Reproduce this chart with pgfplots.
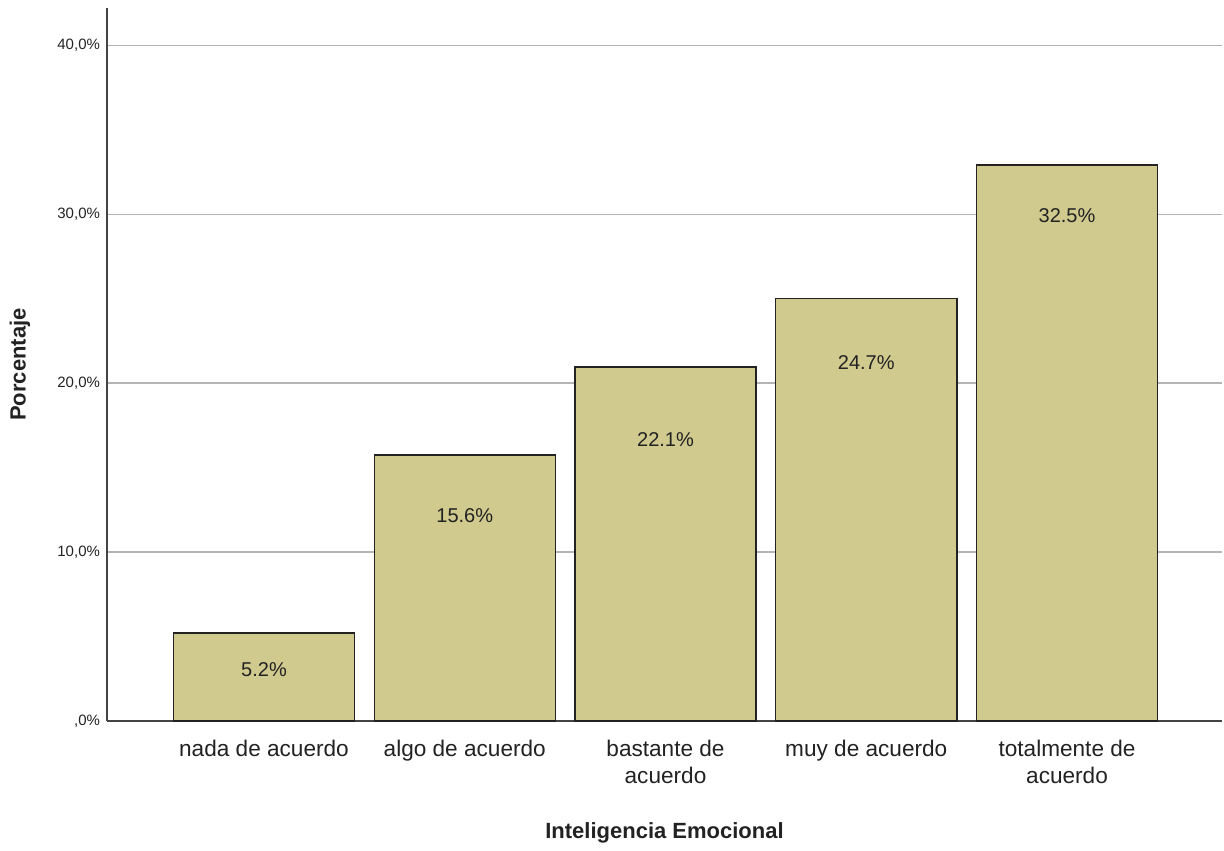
\documentclass[border=0pt]{standalone}
\usepackage{pgfplots}
\pgfplotsset{compat=1.18}
\usepackage{fontspec}
\setmainfont{Liberation Sans}
\definecolor{barfill}{HTML}{D0CA8E}
\definecolor{axisgray}{HTML}{444444}
\definecolor{gridgray}{HTML}{B4B4B4}
\definecolor{txt}{HTML}{222222}

\pgfplotstableread{
x y
0 5.2
1 15.75
2 20.95
3 25.0
4 32.9
}\bars

\pgfplotstableread{
x y lab
0 3.02 5.2
1 12.13 15.6
2 16.63 22.1
3 21.24 24.7
4 29.94 32.5
}\labels

\begin{document}
\begin{tikzpicture}
\useasboundingbox (0,0) rectangle (612pt,425pt);
\begin{axis}[
  at={(53.5pt,64.5pt)}, anchor=south west,
  scale only axis,
  width=557.5pt, height=356.5pt,
  xmin=-0.782, xmax=4.772,
  ymin=0, ymax=42.2,
  axis lines=left,
  axis line style={axisgray, line width=0.9pt, -},
  major tick length=0pt,
  xtick={0,1,2,3,4},
  xticklabels={nada de acuerdo, algo de acuerdo, {bastante de\\acuerdo}, muy de acuerdo, {totalmente de\\acuerdo}},
  xticklabel style={align=center, font=\fontsize{11.3}{13.5}\selectfont, text=txt, yshift=-6pt},
  ytick={0,10,20,30,40},
  yticklabels={{,0\%},{10,0\%},{20,0\%},{30,0\%},{40,0\%}},
  yticklabel style={font=\fontsize{7.5}{9}\selectfont, text=txt},
  ymajorgrids,
  major grid style={gridgray, line width=0.6pt},
  xlabel={\textbf{Inteligencia Emocional}},
  ylabel={\textbf{Porcentaje}},
  xlabel style={at={(axis description cs:0.5,-0.157)}, anchor=center, font=\fontsize{11}{13}\selectfont, text=txt},
  ylabel style={at={(axis description cs:-0.078,0.5)}, anchor=center, font=\fontsize{11}{13}\selectfont, text=txt},
  clip=false,
]
\addplot[ybar, bar width=0.902, fill=barfill, draw=txt, line width=0.7pt] table[x=x, y=y] {\bars};
\addplot[draw=none, mark=none, nodes near coords={\pgfplotspointmeta\%},
  point meta=explicit symbolic, nodes near coords align={center},
  every node near coord/.style={font=\fontsize{10}{12}\selectfont, text=txt, anchor=center}]
  table[x=x, y=y, meta=lab] {\labels};
\end{axis}
\end{tikzpicture}
\end{document}
